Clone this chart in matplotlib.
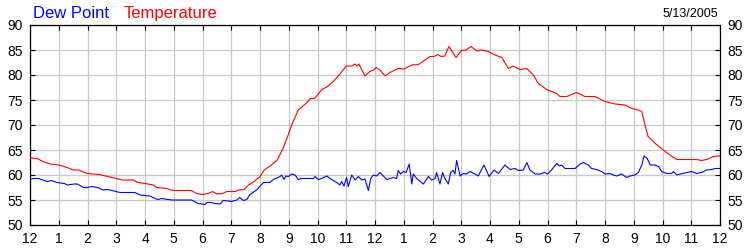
import matplotlib
matplotlib.use("Agg")
import matplotlib.pyplot as plt

plt.rcParams['font.family'] = ['Liberation Sans', 'DejaVu Sans']

# Temperature (hours since midnight, deg F)
temp_hours = [0.0, 0.25, 0.45, 0.7, 1.0, 1.3, 1.5, 1.7, 1.9, 2.0, 2.4, 2.7, 3.0, 3.2, 3.6, 3.75,
              4.0, 4.3, 4.4, 4.75, 4.9, 5.0, 5.6, 5.8, 6.0, 6.2, 6.35, 6.5, 6.7, 6.85, 7.0, 7.15,
              7.25, 7.45, 7.6, 7.8, 8.0, 8.15, 8.4, 8.6, 8.8, 8.98, 9.1, 9.33, 9.6, 9.75, 9.9,
              10.0, 10.15, 10.35, 10.55, 10.75, 11.0, 11.2, 11.3, 11.38, 11.44, 11.65, 11.82,
              11.95, 12.04, 12.17, 12.35, 12.52, 12.81, 13.02, 13.28, 13.51, 13.74, 13.91, 14.06,
              14.18, 14.3, 14.43, 14.57, 14.82, 15.01, 15.17, 15.34, 15.54, 15.71, 15.94, 16.17,
              16.41, 16.64, 16.81, 17.04, 17.28, 17.51, 17.68, 17.97, 18.32, 18.43, 18.67, 18.84,
              19.01, 19.13, 19.3, 19.65, 20.0, 20.35, 20.7, 20.93, 21.16, 21.28, 21.39, 21.5,
              21.75, 22.03, 22.26, 22.5, 23.19, 23.36, 23.54, 23.77, 24.0]
temp_values = [63.4, 63.3, 62.7, 62.2, 62.0, 61.5, 61.0, 61.0, 60.5, 60.3, 60.1, 59.7, 59.3, 59.0, 59.0, 58.5,
               58.3, 58.0, 57.5, 57.3, 57.0, 56.9, 56.9, 56.3, 56.1, 56.3, 56.7, 56.2, 56.3, 56.7, 56.7, 56.7,
               57.0, 57.1, 58.0, 58.7, 59.7, 61.0, 62.0, 63.0, 65.3, 68.0, 70.0, 73.0, 74.3, 75.3, 75.3,
               76.0, 77.1, 77.7, 78.7, 80.0, 81.8, 81.8, 82.2, 81.8, 82.2, 79.8, 80.7,
               81.0, 81.5, 81.0, 79.8, 80.5, 81.3, 81.2, 82.0, 82.1, 83.0, 83.7, 83.7,
               84.1, 83.7, 83.8, 85.7, 83.5, 84.9, 85.0, 85.7, 84.8, 85.0, 84.7, 84.0,
               83.5, 81.3, 81.8, 81.1, 81.3, 80.0, 78.3, 77.1, 76.3, 75.7, 75.7, 76.1,
               76.5, 76.2, 75.7, 75.7, 74.7, 74.2, 74.0, 73.3, 73.0, 72.7, 70.0, 67.7,
               66.3, 65.0, 64.0, 63.1, 63.1, 62.9, 63.1, 63.7, 63.8]

# Dew point (hours since midnight, deg F)
dew_hours = [0.0, 0.1, 0.3, 0.45, 0.6, 0.75, 0.93, 1.2, 1.3, 1.55, 1.65, 1.86, 2.0, 2.15, 2.35, 2.55,
             2.7, 2.85, 3.13, 3.65, 3.83, 4.17, 4.35, 4.45, 4.57, 4.8, 4.93, 5.62, 5.85, 6.09,
             6.15, 6.32, 6.43, 6.61, 6.72, 6.9, 7.01, 7.19, 7.3, 7.42, 7.54, 7.65, 7.88, 7.99,
             8.12, 8.35, 8.46, 8.7, 8.75, 8.84, 8.9, 8.99, 9.1, 9.22, 9.33, 9.45, 9.62, 9.86,
             9.91, 10.03, 10.14, 10.32, 10.49, 10.67, 10.78, 10.84, 10.92, 11.01, 11.07, 11.19,
             11.31, 11.42, 11.54, 11.65, 11.77, 11.85, 11.94, 12.06, 12.17, 12.29, 12.41, 12.52,
             12.64, 12.75, 12.81, 12.89, 12.99, 13.08, 13.19, 13.28, 13.33, 13.45, 13.68, 13.86,
             13.97, 14.09, 14.14, 14.26, 14.35, 14.43, 14.55, 14.63, 14.72, 14.78, 14.84, 14.96,
             15.07, 15.19, 15.3, 15.48, 15.59, 15.79, 15.97, 16.14, 16.29, 16.52, 16.7, 16.87,
             16.99, 17.16, 17.28, 17.39, 17.57, 17.74, 17.91, 18.0, 18.14, 18.32, 18.41, 18.49,
             18.61, 18.78, 18.96, 19.13, 19.25, 19.42, 19.53, 19.71, 19.88, 20.0, 20.17, 20.29,
             20.41, 20.58, 20.75, 20.87, 21.04, 21.16, 21.28, 21.36, 21.47, 21.57, 21.74, 21.86,
             21.97, 22.15, 22.32, 22.38, 22.5, 22.61, 22.84, 23.01, 23.19, 23.36, 23.54, 23.71,
             23.83, 24.0]
dew_values = [59.1, 59.3, 59.3, 59.0, 58.7, 58.9, 58.5, 58.3, 58.0, 58.2, 58.2, 57.5, 57.5, 57.7, 57.5, 57.0,
              57.1, 56.9, 56.5, 56.5, 56.0, 55.8, 55.3, 55.1, 55.3, 55.1, 55.0, 55.0, 54.3, 54.1,
              54.5, 54.5, 54.3, 54.2, 54.9, 54.8, 54.7, 55.0, 55.5, 54.9, 55.1, 56.1, 57.0, 57.7,
              58.5, 58.5, 59.1, 59.7, 60.0, 59.1, 59.8, 59.7, 60.2, 60.0, 59.1, 59.3, 59.3, 59.3,
              59.7, 59.1, 59.3, 59.8, 59.1, 58.5, 58.0, 58.7, 57.8, 59.5, 57.7, 60.0,
              59.0, 59.7, 59.0, 59.2, 56.9, 59.3, 60.0, 59.8, 60.5, 59.8, 59.1, 59.3,
              59.5, 59.3, 60.9, 60.2, 60.7, 60.5, 62.2, 58.2, 60.2, 59.3, 58.2, 59.7,
              59.0, 59.3, 60.5, 58.2, 60.5, 59.3, 58.2, 60.5, 60.9, 60.2, 62.9, 59.8,
              60.3, 60.2, 60.7, 60.2, 59.8, 62.0, 59.7, 61.0, 60.3, 62.0, 61.1, 61.3,
              60.9, 61.0, 62.5, 61.0, 60.2, 60.2, 60.5, 60.2, 61.0, 62.3, 61.8, 62.0,
              61.3, 61.3, 61.3, 62.2, 62.5, 62.0, 61.3, 61.1, 60.7, 60.2, 60.3, 60.0,
              59.8, 60.2, 59.5, 59.8, 60.0, 60.5, 62.0, 63.8, 63.3, 62.0, 62.0, 61.7,
              60.7, 60.3, 60.3, 60.7, 60.0, 60.2, 60.5, 60.7, 60.3, 60.5, 61.0, 61.1,
              61.3, 61.3]

x_ticks = list(range(0, 25))
x_labels = ['12', '1', '2', '3', '4', '5', '6', '7', '8', '9', '10', '11',
            '12', '1', '2', '3', '4', '5', '6', '7', '8', '9', '10', '11', '12']
y_ticks = [50, 55, 60, 65, 70, 75, 80, 85, 90]
date_label = '5/13/2005'

fig = plt.figure(figsize=(7.5, 2.5), dpi=100)
ax = fig.add_axes([30 / 750, 25 / 250, 690 / 750, 200 / 250])

ax.plot(dew_hours, dew_values, color='#0000ff', lw=0.8, zorder=3)
ax.plot(temp_hours, temp_values, color='#ff0000', lw=0.8, zorder=3)

ax.set_xlim(0, 24)
ax.set_ylim(50, 90)
ax.set_xticks(x_ticks)
ax.set_xticklabels(x_labels)
ax.set_yticks(y_ticks)
ax.grid(True, color='#c8c8c8', lw=0.9, zorder=0)
ax.set_axisbelow(True)
ax.tick_params(axis='both', which='major', direction='in', length=3.6, width=0.8,
               top=True, right=True, labelright=True, labelsize=10, pad=5, color='black')
for s in ax.spines.values():
    s.set_linewidth(0.9)
    s.set_color('black')

fig.text(33 / 750, 1 - 18.3 / 250, 'Dew Point', color='#0000ff', fontsize=12,
         ha='left', va='baseline')
fig.text(124 / 750, 1 - 18.3 / 250, 'Temperature', color='#ff0000', fontsize=12,
         ha='left', va='baseline')
fig.text(718 / 750, 1 - 16.7 / 250, date_label, color='black', fontsize=9,
         ha='right', va='baseline')

fig.savefig('out.png', dpi=100)
